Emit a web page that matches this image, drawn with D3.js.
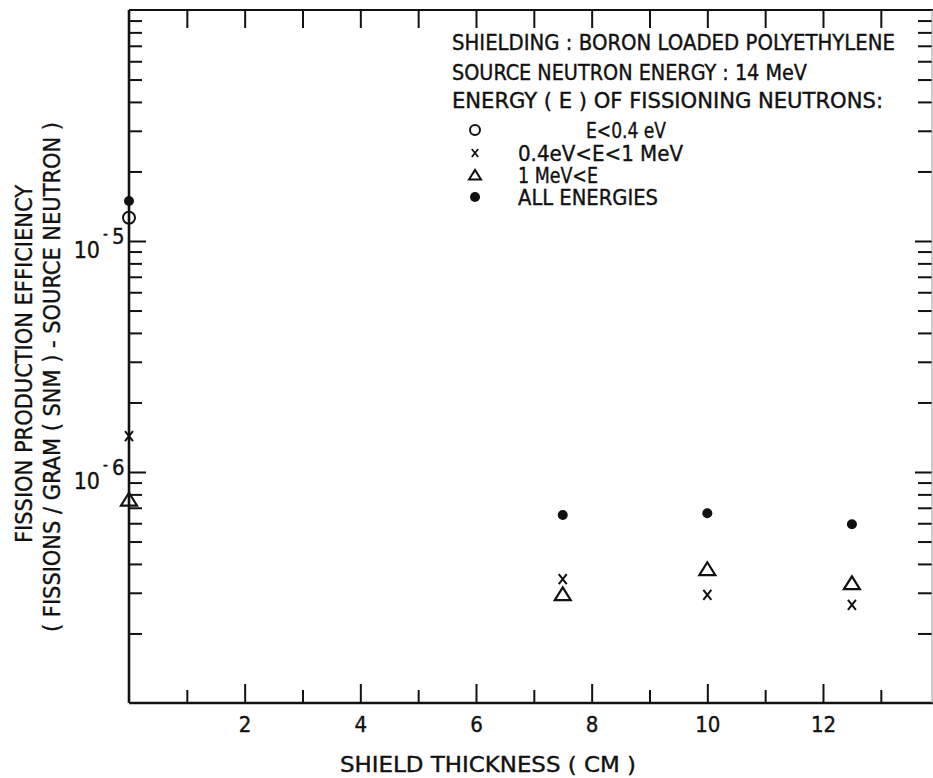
<!DOCTYPE html>
<html>
<head>
<meta charset="utf-8">
<script src="https://cdn.jsdelivr.net/npm/d3@7"></script>
<style>
  body { margin: 0; background: #fff; }
  text { font-family: "Liberation Sans Narrow", "DejaVu Sans Condensed", "Arial Narrow", sans-serif; fill: #111; stroke: #111; stroke-width: 0.35px; }
</style>
</head>
<body>
<div id="container"></div>
<script>
let w = 933;
let h = 778;

// shield thickness (cm)
let thickness = [0, 7.5, 10, 12.5];
// fission production efficiency per energy group
let thermal = [1.26e-5];              // E < 0.4 eV (only at 0 cm)
let intermediate = [1.43e-6, 3.44e-7, 2.94e-7, 2.66e-7]; // 0.4 eV < E < 1 MeV
let fast = [7.6e-7, 2.96e-7, 3.80e-7, 3.30e-7];          // 1 MeV < E
let allEnergies = [1.49e-5, 6.51e-7, 6.63e-7, 5.94e-7];

let xMajor = [2, 4, 6, 8, 10, 12];
let xMinor = [1, 3, 5, 7, 9, 11, 13];
let yDecades = [1e-6, 1e-5];
let yDecadeLabels = ["6", "5"];

let infoLines = [
  "SHIELDING : BORON LOADED POLYETHYLENE",
  "SOURCE NEUTRON ENERGY : 14 MeV",
  "ENERGY ( E ) OF FISSIONING NEUTRONS:"
];
let legendLabels = ["E<0.4 eV", "0.4eV<E<1 MeV", "1 MeV<E", "ALL ENERGIES"];

let viz = d3.select("#container").append("svg")
  .attr("width", w)
  .attr("height", h);

let x = d3.scaleLinear().domain([0, 13.885]).range([129, 932]);
let y = d3.scaleLog().domain([1e-7, 1e-4]).range([703, 10]);

// minor log ticks 2..9 in each decade
let yMinor = [];
[1e-7, 1e-6, 1e-5].forEach(function(d){
  for (let k = 2; k <= 9; k++) yMinor.push(k * d);
});

function cleanAxis(g){
  g.select(".domain").remove();
  g.selectAll(".tick line").attr("stroke", "#111").attr("stroke-width", 2);
  g.selectAll(".tick text").style("font-size", "22px").attr("fill", "#111");
}

// bottom axis
viz.append("g").attr("transform", "translate(0,703)")
  .call(d3.axisBottom(x).tickValues(xMajor).tickSize(-19).tickPadding(13).tickFormat(d3.format("d")))
  .call(cleanAxis);
viz.append("g").attr("transform", "translate(0,703)")
  .call(d3.axisBottom(x).tickValues(xMinor).tickSize(-13).tickFormat(""))
  .call(cleanAxis);
// top axis
viz.append("g").attr("transform", "translate(0,10)")
  .call(d3.axisTop(x).tickValues(xMajor.concat(xMinor)).tickSize(-18).tickFormat(""))
  .call(cleanAxis);
// left axis
viz.append("g").attr("transform", "translate(" + x(0) + ",0)")
  .call(d3.axisLeft(y).tickValues(yDecades).tickSize(-17).tickFormat(""))
  .call(cleanAxis);
viz.append("g").attr("transform", "translate(" + x(0) + ",0)")
  .call(d3.axisLeft(y).tickValues(yMinor).tickSize(-13).tickFormat(""))
  .call(cleanAxis);
// right axis
viz.append("g").attr("transform", "translate(932,0)")
  .call(d3.axisRight(y).tickValues(yDecades).tickSize(-17).tickFormat(""))
  .call(cleanAxis);
viz.append("g").attr("transform", "translate(932,0)")
  .call(d3.axisRight(y).tickValues(yMinor).tickSize(-14).tickFormat(""))
  .call(cleanAxis);

// frame
viz.append("line").attr("x1", x(0)).attr("x2", x(0)).attr("y1", y(1e-4)).attr("y2", y(1e-7))
  .attr("stroke", "#111").attr("stroke-width", 2.6);
viz.append("line").attr("x1", x(0)).attr("x2", w).attr("y1", y(1e-7)).attr("y2", y(1e-7))
  .attr("stroke", "#111").attr("stroke-width", 2.6);
viz.append("line").attr("x1", x(0)).attr("x2", w).attr("y1", y(1e-4)).attr("y2", y(1e-4))
  .attr("stroke", "#111").attr("stroke-width", 2.2);
viz.append("line").attr("x1", 932).attr("x2", 932).attr("y1", y(1e-4)).attr("y2", y(1e-7))
  .attr("stroke", "#999").attr("stroke-width", 1);

// decade labels 10^-n
let decLab = viz.selectAll(".declab").data(yDecades).enter().append("g").attr("class", "declab");
decLab.append("text")
  .attr("x", 100).attr("y", function(d){ return y(d) + 17; })
  .attr("text-anchor", "end").style("font-size", "23px").text("10");
decLab.append("text")
  .attr("x", 103).attr("y", function(d){ return y(d) - 2; })
  .style("font-size", "15px").text("-");
decLab.append("text")
  .attr("x", 112).attr("y", function(d){ return y(d) + 3; })
  .style("font-size", "22px").text(function(d, i){ return yDecadeLabels[i]; });

// axis titles
viz.append("text")
  .attr("x", 340).attr("y", 772)
  .attr("textLength", 296).attr("lengthAdjust", "spacingAndGlyphs")
  .style("font-size", "22px").text("SHIELD THICKNESS ( CM )");
viz.append("text")
  .attr("transform", "translate(32,543) rotate(-90)")
  .attr("textLength", 358).attr("lengthAdjust", "spacingAndGlyphs")
  .style("font-size", "23px").text("FISSION PRODUCTION EFFICIENCY");
viz.append("text")
  .attr("transform", "translate(60,632) rotate(-90)")
  .attr("textLength", 510).attr("lengthAdjust", "spacingAndGlyphs")
  .style("font-size", "23px").text("( FISSIONS / GRAM ( SNM ) - SOURCE NEUTRON )");

// markers
let crossPath = function(s){ return "M" + (-s) + "," + (-s*1.25) + "L" + s + "," + (s*1.25) + "M" + s + "," + (-s*1.25) + "L" + (-s) + "," + (s*1.25); };
let triPath = function(s){ return "M0," + (-s*0.85) + "L" + s + "," + (s*0.75) + "L" + (-s) + "," + (s*0.75) + "Z"; };

viz.selectAll(".allE").data(allEnergies).enter().append("circle")
  .attr("cx", function(d, i){ return x(thickness[i]); })
  .attr("cy", function(d){ return y(d); })
  .attr("r", 5).attr("fill", "#111");

viz.selectAll(".thermal").data(thermal).enter().append("circle")
  .attr("cx", function(d, i){ return x(thickness[i]); })
  .attr("cy", function(d){ return y(d); })
  .attr("r", 6).attr("fill", "none").attr("stroke", "#111").attr("stroke-width", 2);

viz.selectAll(".inter").data(intermediate).enter().append("path")
  .attr("transform", function(d, i){ return "translate(" + x(thickness[i]) + "," + y(d) + ")"; })
  .attr("d", crossPath(4)).attr("fill", "none").attr("stroke", "#111").attr("stroke-width", 2);

viz.selectAll(".fast").data(fast).enter().append("path")
  .attr("transform", function(d, i){ return "translate(" + x(thickness[i]) + "," + y(d) + ")"; })
  .attr("d", triPath(8)).attr("fill", "none").attr("stroke", "#111").attr("stroke-width", 2.2)
  .attr("stroke-linejoin", "miter");

// info text
let infoY = [50, 80, 108];
let infoLen = [443, 355, 431];
viz.selectAll(".info").data(infoLines).enter().append("text")
  .attr("x", 452).attr("y", function(d, i){ return infoY[i]; })
  .attr("textLength", function(d, i){ return infoLen[i]; })
  .attr("lengthAdjust", "spacingAndGlyphs")
  .style("font-size", "21px").text(function(d){ return d; });

// legend
let legY = [130, 153, 175, 197];
let legX = [586, 518, 518, 518];
let legLen = [80, 165, 80, 140];
viz.selectAll(".leg").data(legendLabels).enter().append("text")
  .attr("x", function(d, i){ return legX[i]; })
  .attr("y", function(d, i){ return legY[i] + 8; })
  .attr("textLength", function(d, i){ return legLen[i]; })
  .attr("lengthAdjust", "spacingAndGlyphs")
  .style("font-size", "21px").text(function(d){ return d; });

viz.append("circle").attr("cx", 475).attr("cy", legY[0]).attr("r", 5)
  .attr("fill", "none").attr("stroke", "#111").attr("stroke-width", 2);
viz.append("path").attr("transform", "translate(475," + legY[1] + ")")
  .attr("d", crossPath(3.2)).attr("fill", "none").attr("stroke", "#111").attr("stroke-width", 1.8);
viz.append("path").attr("transform", "translate(475," + legY[2] + ")")
  .attr("d", triPath(6)).attr("fill", "none").attr("stroke", "#111").attr("stroke-width", 2);
viz.append("circle").attr("cx", 475).attr("cy", legY[3]).attr("r", 5).attr("fill", "#111");
</script>
</body>
</html>
